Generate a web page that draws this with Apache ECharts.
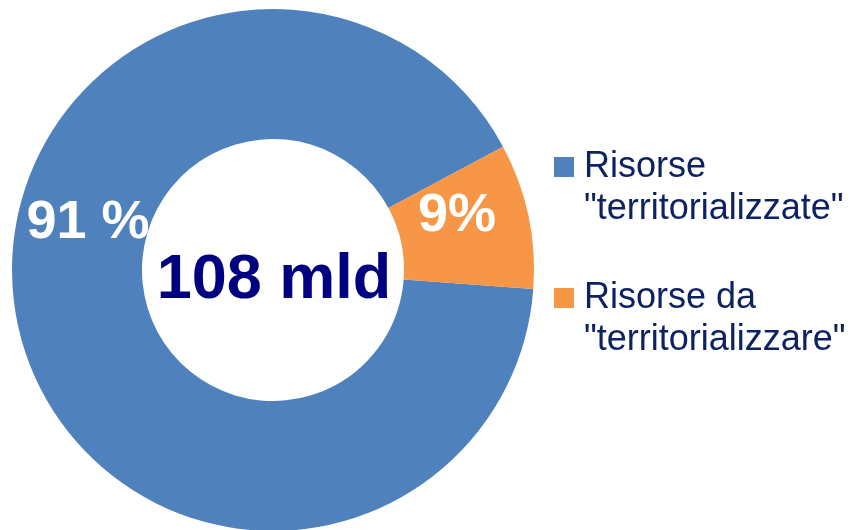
<!DOCTYPE html>
<html>
<head>
<meta charset="utf-8">
<script src="https://cdn.jsdelivr.net/npm/echarts@6/dist/echarts.min.js"></script>
<style>
  html, body { margin: 0; padding: 0; background: #ffffff; }
  #chart { width: 851px; height: 530px; }
</style>
</head>
<body>
<div id="chart"></div>
<script>
// Resource split (share of the total, in percent)
const categories = ['Risorse\n"territorializzate"', 'Risorse da\n"territorializzare"'];
const shares = [91, 9];
const shareLabels = ['91 %', '9%'];
const totalLabel = '108 mld';
const colors = ['#4F81BD', '#F79646'];

const FONT = 'Liberation Sans, Arial, Helvetica, sans-serif';
const CX = 273, CY = 270;

// where each slice's percentage text sits
const labelSpots = [
  { x: 88, y: 223 },
  { x: 457, y: 216 }
];

const chart = echarts.init(document.getElementById('chart'), null, { renderer: 'canvas' });

chart.setOption({
  backgroundColor: '#ffffff',
  animation: false,
  color: colors,
  legend: {
    orient: 'vertical',
    left: 554,
    top: 104,
    padding: 0,
    itemGap: 5,
    itemWidth: 20,
    itemHeight: 20,
    icon: 'rect',
    data: categories,
    // leading blank line keeps the square level with the first text line
    formatter: name => '\n' + name,
    textStyle: {
      fontFamily: FONT,
      fontSize: 36,
      lineHeight: 42,
      color: '#0E2263',
      padding: [0, 0, 0, 5]
    }
  },
  graphic: [{
    type: 'text',
    x: CX + 1,
    y: CY + 11,
    style: {
      text: totalLabel,
      fontFamily: FONT,
      fontSize: 63,
      fontWeight: 'bold',
      fill: '#000080',
      align: 'center',
      verticalAlign: 'middle'
    }
  }],
  series: [{
    type: 'pie',
    center: [CX, CY],
    radius: [131, 261],
    startAngle: -4.2,
    clockwise: true,
    avoidLabelOverlap: false,
    silent: true,
    itemStyle: { borderWidth: 0 },
    label: {
      show: true,
      position: 'inside',
      fontFamily: FONT,
      fontWeight: 'bold',
      fontSize: 54,
      color: '#ffffff',
      formatter: p => shareLabels[p.dataIndex]
    },
    labelLine: { show: false },
    labelLayout: p => ({
      x: labelSpots[p.dataIndex].x,
      y: labelSpots[p.dataIndex].y,
      align: 'center',
      verticalAlign: 'middle'
    }),
    data: categories.map((name, i) => ({ name, value: shares[i] }))
  }]
});
</script>
</body>
</html>
